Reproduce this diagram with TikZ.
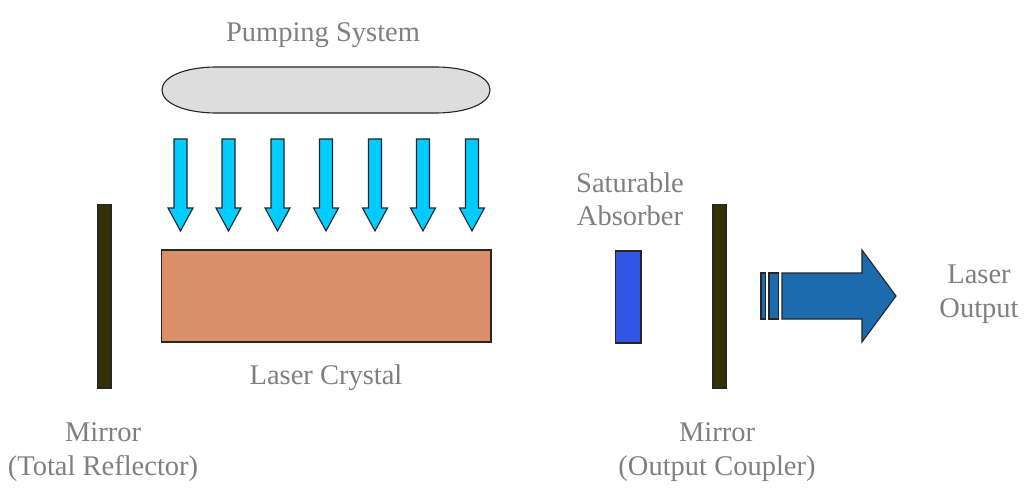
\documentclass[tikz,border=0pt]{standalone}
\usepackage{fontspec}
\setmainfont{Liberation Serif}
\definecolor{mirrorc}{HTML}{333300}
\definecolor{pumpc}{HTML}{DDDDDD}
\definecolor{arrowc}{HTML}{00CCFF}
\definecolor{crystalc}{HTML}{DA8F6A}
\definecolor{absc}{HTML}{3355E5}
\definecolor{outc}{HTML}{1B6BAE}
\definecolor{txt}{HTML}{808080}
\tikzset{
 px/.style={x=1pt,y=-1pt},
 lab/.style={text=txt,font=\fontsize{28.5}{33.5}\selectfont,align=center,inner sep=0pt},
 edge/.style={draw=black!85,line width=1.1pt},
 pumparrow/.pic={\path[edge,fill=arrowc] (-6.5,-46)--(6.5,-46)--(6.5,23)--(12.5,23)--(0,46)--(-12.5,23)--(-6.5,23)--cycle;}
}
\begin{document}
\begin{tikzpicture}[px]
\useasboundingbox (0,0) rectangle (1024,489);
\fill[white] (0,0) rectangle (1024,489);
\node[lab] (pumplab) at (323,35) {Pumping System};
\draw[edge,fill=pumpc] (217,67) -- (435,67) .. controls (468,67) and (490,77) .. (490,90) .. controls (490,103) and (468,113) .. (435,113) -- (217,113) .. controls (184,113) and (162,103) .. (162,90) .. controls (162,77) and (184,67) .. (217,67) -- cycle;
\foreach \i/\xx in {1/180.5,2/228.5,3/277.5,4/326,5/375,6/423,7/472}{
 \pic at (\xx,185) {pumparrow};
}
\path[edge,fill=crystalc] (161.5,250) rectangle (491,342);
\node[lab] (crystallab) at (326,378) {Laser Crystal};
\path[edge,fill=mirrorc] (98,204.5) rectangle (111,388);
\path[edge,fill=mirrorc] (713,204.5) rectangle (726,388);
\node[lab] (m1) at (103,452) {Mirror\\(Total Reflector)};
\node[lab] (m2) at (717,452) {Mirror\\(Output Coupler)};
\node[lab] (sa) at (630,199.5) {Saturable\\Absorber};
\path[edge,fill=absc] (615.5,251) rectangle (641,343);
\path[edge,fill=outc] (761,273) rectangle (765.5,319);
\path[edge,fill=outc] (769,273) rectangle (778.5,319);
\path[edge,fill=outc] (782,273) -- (862,273) -- (862,250) -- (896,296) -- (862,342) -- (862,319) -- (782,319) -- cycle;
\node[lab] (lo) at (979,294) {Laser\\Output};
\end{tikzpicture}
\end{document}
